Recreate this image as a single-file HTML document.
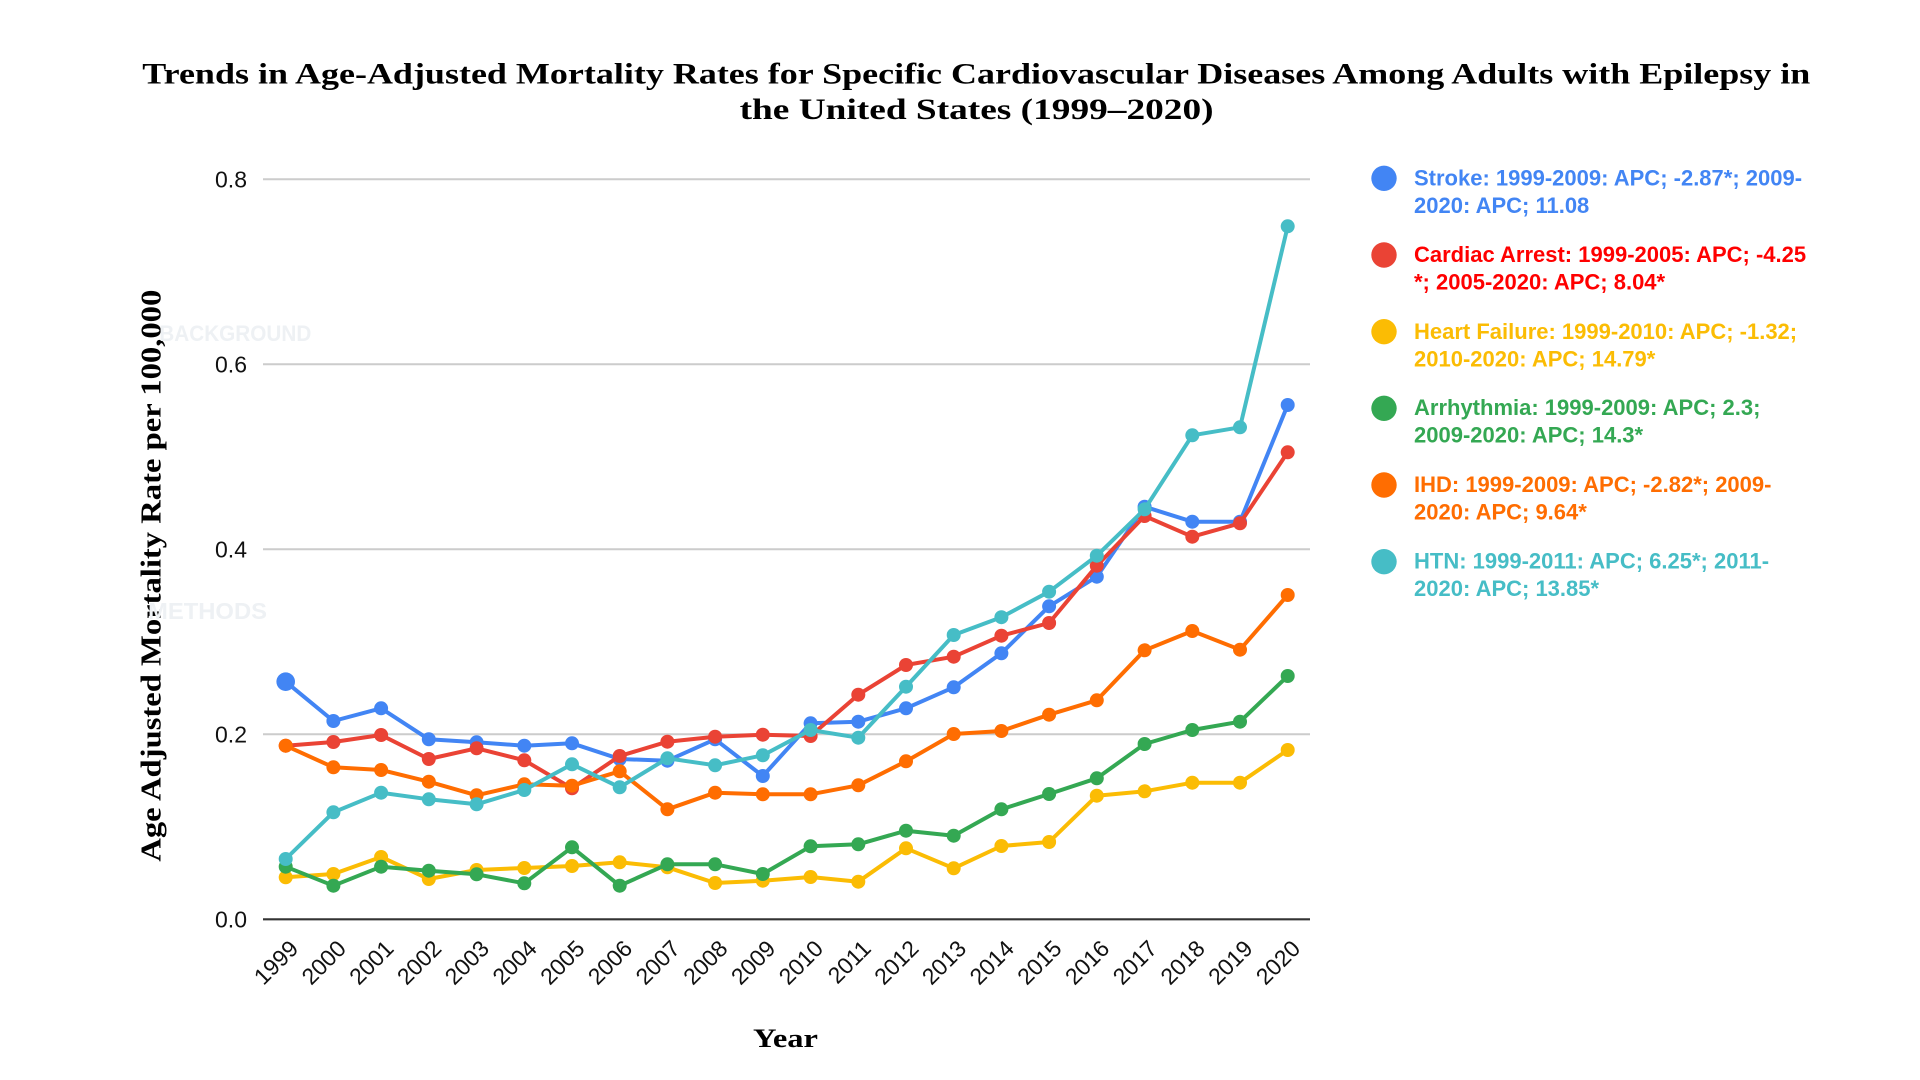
<!DOCTYPE html>
<html>
<head>
<meta charset="utf-8">
<style>
  html,body{margin:0;padding:0;background:#fff;}
  svg{display:block;}
  .serif{font-family:"Liberation Serif","Times New Roman",serif;font-weight:bold;fill:#000;}
  .sans{font-family:"Liberation Sans",Arial,sans-serif;}
  .tick{font-family:"Liberation Sans",Arial,sans-serif;font-size:23px;fill:#111;}
  .leg{font-family:"Liberation Sans",Arial,sans-serif;font-size:22px;font-weight:bold;}
</style>
</head>
<body>
<svg width="1920" height="1080" viewBox="0 0 1920 1080" xmlns="http://www.w3.org/2000/svg">
  <defs>
    <marker id="mBlue" markerWidth="16" markerHeight="16" refX="8" refY="8" markerUnits="userSpaceOnUse"><circle cx="8" cy="8" r="7" fill="#4285F4"/></marker>
    <marker id="mRed" markerWidth="16" markerHeight="16" refX="8" refY="8" markerUnits="userSpaceOnUse"><circle cx="8" cy="8" r="7" fill="#EA4335"/></marker>
    <marker id="mYel" markerWidth="16" markerHeight="16" refX="8" refY="8" markerUnits="userSpaceOnUse"><circle cx="8" cy="8" r="7" fill="#FBBC04"/></marker>
    <marker id="mGrn" markerWidth="16" markerHeight="16" refX="8" refY="8" markerUnits="userSpaceOnUse"><circle cx="8" cy="8" r="7" fill="#34A853"/></marker>
    <marker id="mOrg" markerWidth="16" markerHeight="16" refX="8" refY="8" markerUnits="userSpaceOnUse"><circle cx="8" cy="8" r="7" fill="#FF6D01"/></marker>
    <marker id="mTeal" markerWidth="16" markerHeight="16" refX="8" refY="8" markerUnits="userSpaceOnUse"><circle cx="8" cy="8" r="7" fill="#46BDC6"/></marker>
  </defs>

  <rect x="0" y="0" width="1920" height="1080" fill="#fff"/>

  <!-- Title -->
  <text class="serif" x="142.3" y="83.3" font-size="30" textLength="1668" lengthAdjust="spacingAndGlyphs">Trends in Age-Adjusted Mortality Rates for Specific Cardiovascular Diseases Among Adults with Epilepsy in</text>
  <text class="serif" x="739.6" y="119" font-size="30" textLength="474" lengthAdjust="spacingAndGlyphs">the United States (1999–2020)</text>

  <!-- Gridlines -->
  <g stroke="#cccccc" stroke-width="2">
    <line x1="263" y1="179.3" x2="1310" y2="179.3"/>
    <line x1="263" y1="364.3" x2="1310" y2="364.3"/>
    <line x1="263" y1="549.3" x2="1310" y2="549.3"/>
    <line x1="263" y1="734.3" x2="1310" y2="734.3"/>
  </g>
  <line x1="263" y1="919.3" x2="1310" y2="919.3" stroke="#333" stroke-width="2.2"/>

  <!-- Y tick labels -->
  <g class="tick" text-anchor="end">
    <text x="247" y="187.6">0.8</text>
    <text x="247" y="372.6">0.6</text>
    <text x="247" y="557.6">0.4</text>
    <text x="247" y="742.6">0.2</text>
    <text x="247" y="927.6">0.0</text>
  </g>

  <!-- X tick labels -->
  <g class="tick" text-anchor="end">
    <text transform="translate(299.7,950) rotate(-45)">1999</text>
    <text transform="translate(347.4,950) rotate(-45)">2000</text>
    <text transform="translate(395.1,950) rotate(-45)">2001</text>
    <text transform="translate(442.8,950) rotate(-45)">2002</text>
    <text transform="translate(490.6,950) rotate(-45)">2003</text>
    <text transform="translate(538.3,950) rotate(-45)">2004</text>
    <text transform="translate(586,950) rotate(-45)">2005</text>
    <text transform="translate(633.7,950) rotate(-45)">2006</text>
    <text transform="translate(681.4,950) rotate(-45)">2007</text>
    <text transform="translate(729.1,950) rotate(-45)">2008</text>
    <text transform="translate(776.8,950) rotate(-45)">2009</text>
    <text transform="translate(824.6,950) rotate(-45)">2010</text>
    <text transform="translate(872.3,950) rotate(-45)">2011</text>
    <text transform="translate(920,950) rotate(-45)">2012</text>
    <text transform="translate(967.7,950) rotate(-45)">2013</text>
    <text transform="translate(1015.4,950) rotate(-45)">2014</text>
    <text transform="translate(1063.1,950) rotate(-45)">2015</text>
    <text transform="translate(1110.8,950) rotate(-45)">2016</text>
    <text transform="translate(1158.6,950) rotate(-45)">2017</text>
    <text transform="translate(1206.3,950) rotate(-45)">2018</text>
    <text transform="translate(1254,950) rotate(-45)">2019</text>
    <text transform="translate(1301.7,950) rotate(-45)">2020</text>
  </g>

  <!-- Axis titles -->
  <text class="serif" x="753" y="1047" font-size="26" textLength="65" lengthAdjust="spacingAndGlyphs">Year</text>
  <text class="serif" transform="translate(160.5,861.7) rotate(-90)" font-size="29" textLength="572" lengthAdjust="spacingAndGlyphs">Age Adjusted Mortality Rate per 100,000</text>

  <!-- Series -->
  <g fill="none" stroke-width="4" stroke-linejoin="round" stroke-linecap="round">
    <polyline stroke="#4285F4" marker-start="url(#mBlue)" marker-mid="url(#mBlue)" marker-end="url(#mBlue)"
      points="285.7,681.7 333.4,721 381.1,708.3 428.8,739.3 476.6,742.3 524.3,745.7 572,743.3 619.7,759 667.4,760.7 715.1,739.3 762.8,776 810.6,723.3 858.3,721.7 906,708.3 953.7,687.3 1001.4,653.3 1049.1,606.3 1096.8,576.7 1144.6,506.7 1192.3,521.7 1240,521.7 1287.7,405"/>
    <circle cx="285.7" cy="681.7" r="9.3" fill="#4285F4" stroke="none"/>
    <polyline stroke="#EA4335" marker-start="url(#mRed)" marker-mid="url(#mRed)" marker-end="url(#mRed)"
      points="285.7,745.7 333.4,742 381.1,735 428.8,759 476.6,748.3 524.3,760.3 572,788.3 619.7,756 667.4,741.7 715.1,736.7 762.8,734.7 810.6,736 858.3,694.7 906,665 953.7,656.7 1001.4,635.7 1049.1,623 1096.8,565.7 1144.6,516 1192.3,536.7 1240,523.3 1287.7,452.3"/>
    <polyline stroke="#FBBC04" marker-start="url(#mYel)" marker-mid="url(#mYel)" marker-end="url(#mYel)"
      points="285.7,877.3 333.4,874 381.1,857 428.8,879 476.6,870 524.3,868 572,866 619.7,862.3 667.4,867.3 715.1,883 762.8,880.7 810.6,877 858.3,881.7 906,848.3 953.7,868.3 1001.4,846 1049.1,842 1096.8,795.7 1144.6,791.3 1192.3,782.7 1240,782.7 1287.7,750"/>
    <polyline stroke="#34A853" marker-start="url(#mGrn)" marker-mid="url(#mGrn)" marker-end="url(#mGrn)"
      points="285.7,866.7 333.4,885.7 381.1,866.7 428.8,870.7 476.6,874.3 524.3,883.3 572,847.3 619.7,885.7 667.4,864.3 715.1,864.3 762.8,874 810.6,846.3 858.3,844.3 906,830.7 953.7,835.7 1001.4,809.3 1049.1,794 1096.8,778.3 1144.6,744 1192.3,730 1240,721.7 1287.7,676"/>
    <polyline stroke="#FF6D01" marker-start="url(#mOrg)" marker-mid="url(#mOrg)" marker-end="url(#mOrg)"
      points="285.7,745.7 333.4,767.3 381.1,770 428.8,781.7 476.6,795.3 524.3,784.3 572,785.7 619.7,771.3 667.4,809.3 715.1,792.7 762.8,794.3 810.6,794.3 858.3,785.3 906,761.3 953.7,734 1001.4,731 1049.1,714.7 1096.8,700.3 1144.6,650.3 1192.3,631 1240,649.7 1287.7,595"/>
    <polyline stroke="#46BDC6" marker-start="url(#mTeal)" marker-mid="url(#mTeal)" marker-end="url(#mTeal)"
      points="285.7,859 333.4,812.3 381.1,792.7 428.8,799.3 476.6,804.3 524.3,790 572,764.3 619.7,787.3 667.4,758.3 715.1,765.3 762.8,755.3 810.6,730 858.3,737.7 906,686.7 953.7,635 1001.4,617.2 1049.1,591.7 1096.8,555.7 1144.6,509.3 1192.3,435.3 1240,427.3 1287.7,226.3"/>
  </g>

  <!-- Faint overlay labels -->
  <text class="sans" x="159.3" y="341" font-size="22" font-weight="bold" fill="#eef1f4" textLength="152" lengthAdjust="spacingAndGlyphs">BACKGROUND</text>
  <text class="sans" x="148" y="619" font-size="23.5" font-weight="bold" fill="#eef1f4" textLength="119" lengthAdjust="spacingAndGlyphs">METHODS</text>

  <!-- Legend -->
  <g>
    <circle cx="1384" cy="178.3" r="12.7" fill="#4285F4"/>
    <text class="leg" fill="#4285F4" x="1414" y="185.5">Stroke: 1999-2009: APC; -2.87*; 2009-</text>
    <text class="leg" fill="#4285F4" x="1414" y="213">2020: APC; 11.08</text>

    <circle cx="1384" cy="255" r="12.7" fill="#EA4335"/>
    <text class="leg" fill="#FF0000" x="1414" y="262.2">Cardiac Arrest: 1999-2005: APC; -4.25</text>
    <text class="leg" fill="#FF0000" x="1414" y="289.7">*; 2005-2020: APC; 8.04*</text>

    <circle cx="1384" cy="331.7" r="12.7" fill="#FBBC04"/>
    <text class="leg" fill="#FBBC04" x="1414" y="338.9">Heart Failure: 1999-2010: APC; -1.32;</text>
    <text class="leg" fill="#FBBC04" x="1414" y="366.4">2010-2020: APC; 14.79*</text>

    <circle cx="1384" cy="408.3" r="12.7" fill="#34A853"/>
    <text class="leg" fill="#34A853" x="1414" y="415.2">Arrhythmia: 1999-2009: APC; 2.3;</text>
    <text class="leg" fill="#34A853" x="1414" y="442.5">2009-2020: APC; 14.3*</text>

    <circle cx="1384" cy="485" r="12.7" fill="#FF6D01"/>
    <text class="leg" fill="#FF6D01" x="1414" y="491.8">IHD: 1999-2009: APC; -2.82*; 2009-</text>
    <text class="leg" fill="#FF6D01" x="1414" y="519.3">2020: APC; 9.64*</text>

    <circle cx="1384" cy="561.7" r="12.7" fill="#46BDC6"/>
    <text class="leg" fill="#46BDC6" x="1414" y="568.4">HTN: 1999-2011: APC; 6.25*; 2011-</text>
    <text class="leg" fill="#46BDC6" x="1414" y="596">2020: APC; 13.85*</text>
  </g>
</svg>
</body>
</html>
